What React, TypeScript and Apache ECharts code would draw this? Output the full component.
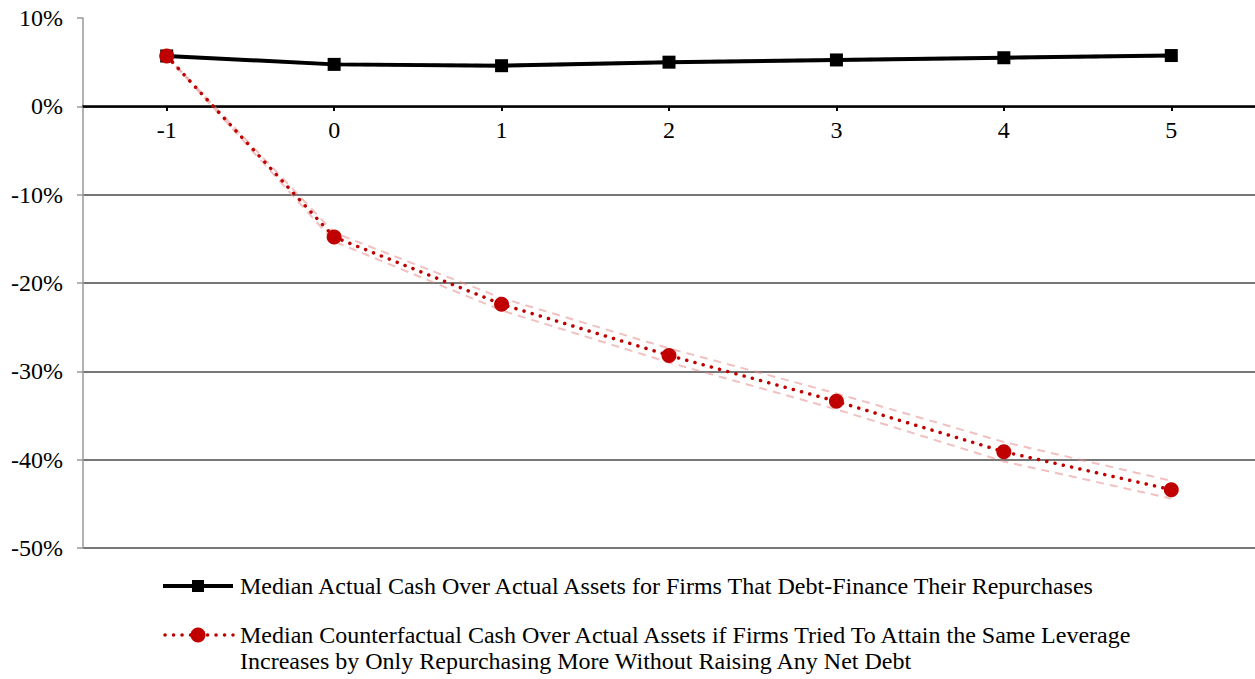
import React, { useEffect, useRef } from "react";
import * as echarts from "echarts";

const categories = ["-1", "0", "1", "2", "3", "4", "5"];
const actualCash = [5.7, 4.75, 4.6, 5.0, 5.25, 5.5, 5.75];
const actualUpper = [5.75, 4.85, 4.7, 5.1, 5.35, 5.6, 5.85];
const actualLower = [5.65, 4.65, 4.5, 4.9, 5.15, 5.4, 5.65];
const counterCash = [5.7, -14.8, -22.4, -28.2, -33.4, -39.1, -43.4];
const counterUpper = [5.7, -14.3, -21.7, -27.4, -32.5, -38.0, -42.4];
const counterLower = [5.7, -15.3, -23.1, -29.0, -34.3, -40.2, -44.4];
const yTicks = [-50, -40, -30, -20, -10, 0, 10];
const legend1 = "Median Actual Cash Over Actual Assets for Firms That Debt-Finance Their Repurchases";
const legend2a = "Median Counterfactual Cash Over Actual Assets if Firms Tried To Attain the Same Leverage";
const legend2b = "Increases by Only Repurchasing More Without Raising Any Net Debt";

const FONT = "Liberation Serif";

export default function App() {
  const ref = useRef<HTMLDivElement>(null);
  useEffect(() => {
    if (!ref.current) return;
    const chart = echarts.init(ref.current, null, { renderer: "svg" });
    const bandStyle = (color: string) => ({
      type: "line",
      data: [] as number[],
      symbol: "none",
      silent: true,
      z: 1,
      lineStyle: { color, width: 2, type: [8, 6] },
    });
    chart.setOption({
      animation: false,
      textStyle: { fontFamily: FONT },
      grid: { left: 83, right: 0, top: 18, height: 530 },
      xAxis: {
        type: "category",
        data: categories,
        offset: -442,
        axisLine: { onZero: false, lineStyle: { color: "#000", width: 2.5 } },
        axisTick: { show: true, alignWithLabel: true, length: 5, lineStyle: { color: "#000", width: 2 } },
        axisLabel: { color: "#000", fontSize: 24, fontFamily: FONT, margin: 12 },
        splitLine: { show: false },
      },
      yAxis: {
        type: "value",
        min: yTicks[0],
        max: yTicks[yTicks.length - 1],
        interval: 10,
        axisLine: { show: true, lineStyle: { color: "#999", width: 1.5 } },
        axisTick: { show: true, length: 6, lineStyle: { color: "#999", width: 1.5 } },
        axisLabel: { color: "#000", fontSize: 24, fontFamily: FONT, margin: 20, formatter: (v: number) => `${v}%` },
        splitLine: {
          show: true,
          lineStyle: {
            color: ["#4a4a4a", "#4a4a4a", "#4a4a4a", "#4a4a4a", "#4a4a4a", "#4a4a4a", "rgba(0,0,0,0)"],
            width: 1.5,
          },
        },
      },
      series: [
        { ...bandStyle("rgba(150,150,150,0.6)"), name: "actualUpper", data: actualUpper },
        { ...bandStyle("rgba(150,150,150,0.6)"), name: "actualLower", data: actualLower },
        { ...bandStyle("rgba(230,140,140,0.55)"), name: "counterUpper", data: counterUpper },
        { ...bandStyle("rgba(230,140,140,0.55)"), name: "counterLower", data: counterLower },
        {
          name: legend1,
          type: "line",
          data: actualCash,
          symbol: "rect",
          symbolSize: 13,
          z: 3,
          itemStyle: { color: "#000" },
          lineStyle: { color: "#000", width: 4 },
        },
        {
          name: legend2a + " " + legend2b,
          type: "line",
          data: counterCash,
          symbol: "circle",
          symbolSize: 15,
          z: 4,
          itemStyle: { color: "#C00000" },
          lineStyle: { color: "#C00000", width: 3.5, type: [0.1, 8.4], cap: "round" },
        },
      ],
      graphic: [
        { type: "line", shape: { x1: 163, y1: 586, x2: 233, y2: 586 }, style: { stroke: "#000", lineWidth: 4 } },
        { type: "rect", shape: { x: 192, y: 580, width: 12, height: 12 }, style: { fill: "#000" } },
        {
          type: "text",
          x: 240,
          y: 586,
          style: { text: legend1, fill: "#000", fontSize: 24, fontFamily: FONT, verticalAlign: "middle" },
        },
        {
          type: "line",
          shape: { x1: 165, y1: 635, x2: 233, y2: 635 },
          style: { stroke: "#C00000", lineWidth: 3.5, lineDash: [0.1, 8.4], lineCap: "round" },
        },
        { type: "circle", shape: { cx: 198, cy: 635, r: 7.5 }, style: { fill: "#C00000" } },
        {
          type: "text",
          x: 240,
          y: 635,
          style: { text: legend2a, fill: "#000", fontSize: 24, fontFamily: FONT, verticalAlign: "middle" },
        },
        {
          type: "text",
          x: 240,
          y: 661,
          style: { text: legend2b, fill: "#000", fontSize: 24, fontFamily: FONT, verticalAlign: "middle" },
        },
      ],
    });
    return () => chart.dispose();
  }, []);
  return (
    <div
      ref={ref}
      style={{ position: "fixed", left: 0, top: 0, width: 1255, height: 679, background: "#fff" }}
    />
  );
}
